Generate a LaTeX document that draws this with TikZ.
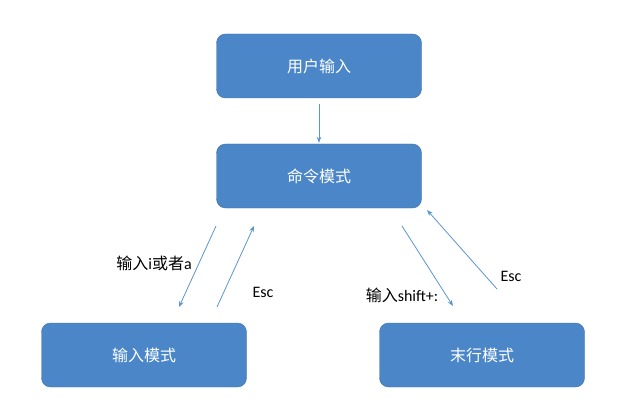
\documentclass[tikz,border=0pt]{standalone}
\usepackage{fontspec}
\setmainfont{Carlito}
\newfontfamily\cjk{Noto Sans CJK SC}
\usetikzlibrary{arrows.meta,positioning}
\definecolor{boxblue}{RGB}{74,134,200}
\definecolor{boxline}{RGB}{66,114,160}
\definecolor{arrowblue}{RGB}{91,148,210}

\begin{document}
\begin{tikzpicture}[x=1pt,y=-1pt,
	modebox/.style={rectangle,rounded corners=9pt,draw=boxline,fill=boxblue,minimum width=205pt,minimum height=64pt,text=white,font=\fontsize{16}{19}\selectfont\cjk},
	lbl/.style={inner sep=0pt,font=\fontsize{16}{19}\selectfont},
	flow/.style={arrowblue,line width=0.8pt,-{Stealth[length=6pt,width=4.5pt]}}]
	
	\useasboundingbox (0,0) rectangle (622,404);
	
	% Mode boxes
	\node[modebox] (user) at (319,66) {用户输入};
	\node[modebox] (cmd) at (319,176) {命令模式};
	\node[modebox] (insert) at (144,355) {输入模式};
	\node[modebox] (last) at (482,355) {末行模式};
	
	% Arrow ends
	\coordinate (ins-a) at (216,226);
	\coordinate (ins-b) at (179,307);
	\coordinate (esc-a) at (217,307);
	\coordinate (esc-b) at (254,226);
	\coordinate (last-a) at (402,226);
	\coordinate (last-b) at (453,306);
	\coordinate (back-a) at (497,289);
	\coordinate (back-b) at (427,210);
	
	% Arrows
	\draw[flow, shorten <=6pt, shorten >=1pt] (user) -- (cmd);
	\draw[flow] (ins-a) -- (ins-b);
	\draw[flow] (esc-a) -- (esc-b);
	\draw[flow] (last-a) -- (last-b);
	\draw[flow] (back-a) -- (back-b);
	
	% Key labels
	\node[lbl] (key-i) at (154,263) {{\cjk 输入}i{\cjk 或者}a};
	\node[lbl] (key-esc) at (263,292) {Esc};
	\node[lbl] (key-colon) at (402,295) {{\cjk 输入}shift+:};
	\node[lbl] (key-esc2) at (511,276) {Esc};
	
\end{tikzpicture}
\end{document}
